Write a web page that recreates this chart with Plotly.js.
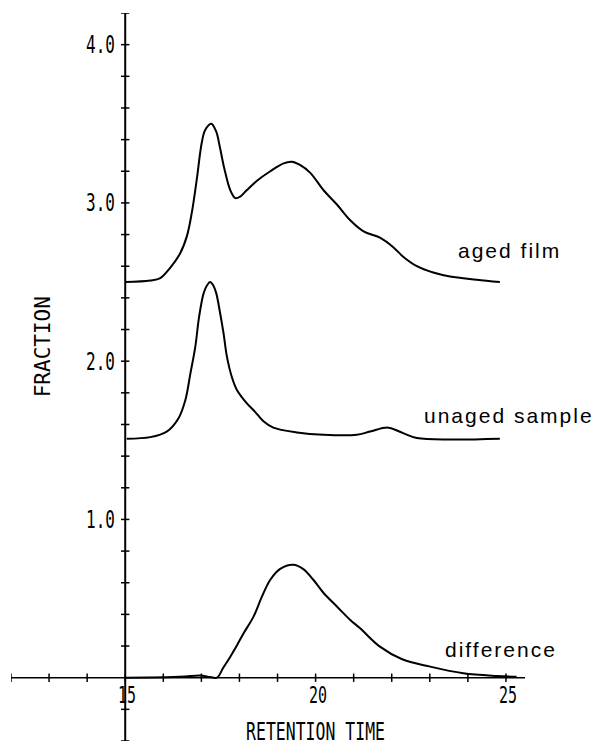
<!DOCTYPE html>
<html>
<head>
<meta charset="utf-8">
<script src="https://cdn.plot.ly/plotly-3.0.1.min.js"></script>
<style>
  html, body { margin: 0; padding: 0; background: #fff; }
  #chart { width: 595px; height: 745px; }
</style>
</head>
<body>
<div id="chart"></div>
<script>
// ---- data ----
const agedX = [15.00,15.66,15.92,16.18,16.44,16.62,16.75,16.88,17.01,17.10,17.26,17.39,17.48,17.60,17.76,17.89,18.02,18.19,18.46,18.81,19.16,19.38,19.59,19.86,20.21,20.56,20.91,21.26,21.69,22.04,22.30,22.66,23.09,23.53,24.23,24.84];
const agedY = [2.50,2.51,2.525,2.59,2.68,2.79,2.94,3.15,3.38,3.46,3.50,3.45,3.36,3.22,3.08,3.03,3.04,3.08,3.14,3.20,3.25,3.26,3.24,3.19,3.08,2.99,2.89,2.82,2.78,2.72,2.66,2.60,2.56,2.535,2.515,2.50];

const unagedX = [15.04,15.66,16.09,16.40,16.58,16.71,16.84,16.94,17.06,17.15,17.23,17.31,17.39,17.48,17.58,17.67,17.80,17.93,18.19,18.41,18.63,18.89,19.51,20.21,21.08,21.43,21.91,22.30,22.66,23.53,24.84];
const unagedY = [1.51,1.52,1.555,1.64,1.755,1.92,2.09,2.28,2.43,2.48,2.50,2.48,2.43,2.32,2.18,2.03,1.90,1.82,1.735,1.68,1.62,1.58,1.55,1.535,1.535,1.555,1.58,1.545,1.515,1.505,1.51];

const diffX = [15.00,16.26,16.58,16.97,17.23,17.41,17.57,17.76,17.94,18.11,18.37,18.59,18.81,19.07,19.41,19.67,19.94,20.21,20.56,20.91,21.17,21.69,22.26,23.01,23.88,24.76,25.28];
const diffY = [0.0,0.004,0.007,0.014,0.004,0.0,0.061,0.133,0.207,0.281,0.386,0.512,0.619,0.688,0.714,0.688,0.619,0.535,0.450,0.365,0.312,0.196,0.118,0.070,0.028,0.011,0.006];

const seriesNames = ["aged film", "unaged sample", "difference"];
const seriesLabelX = [25.10, 25.07, 24.88];
const seriesLabelY = [2.70, 1.655, 0.178];

const xTicks = [12,13,14,15,16,17,18,19,20,21,22,23,24,25];
const xLabelVals = [15, 20, 25];
const xLabelText = ["15", "20", "25"];
const yTicks = [-0.4,-0.2,0.2,0.4,0.6,0.8,1.0,1.2,1.4,1.6,1.8,2.0,2.2,2.4,2.6,2.8,3.0,3.2,3.4,3.6,3.8,4.0,4.2];
const yLabelVals = [1, 2, 3, 4];
const yLabelText = ["1.0", "2.0", "3.0", "4.0"];

const xTitle = "RETENTION TIME";
const yTitle = "FRACTION";

// ---- axis geometry ----
const xRange = [12, 25.5];
const yRange = [-0.4, 4.2];
const xCross = 15;   // y axis drawn at x = 15
const yCross = 0;    // x axis drawn at y = 0

const curveLine = {color: "#000", width: 2, shape: "spline", smoothing: 1.0};

const traces = [
  {x: agedX, y: agedY, mode: "lines", line: curveLine, hoverinfo: "skip"},
  {x: unagedX, y: unagedY, mode: "lines", line: curveLine, hoverinfo: "skip"},
  {x: diffX, y: diffY, mode: "lines", line: curveLine, hoverinfo: "skip"},
  // tick marks on the x axis
  {x: xTicks, y: xTicks.map(() => yCross), mode: "markers", hoverinfo: "skip",
   marker: {symbol: "line-ns-open", size: 6, color: "#000", line: {color: "#000", width: 1.5}}},
  // tick marks on the y axis
  {x: yTicks.map(() => xCross), y: yTicks, mode: "markers", hoverinfo: "skip",
   marker: {symbol: "line-ew-open", size: 6, color: "#000", line: {color: "#000", width: 1.5}}}
];

const plotterFont = {family: "DejaVu Sans Mono, monospace", size: 16, color: "#000"};
const labelFont = {family: "Liberation Sans, Arial, Helvetica, sans-serif", size: 21, color: "#000"};

const annotations = [];
const kinds = [];
yLabelVals.forEach((v, i) => {
  annotations.push({x: xCross, y: v, xref: "x", yref: "y", text: yLabelText[i], showarrow: false,
    xanchor: "right", yanchor: "middle", xshift: -8, font: plotterFont});
  kinds.push("plot");
});
xLabelVals.forEach((v, i) => {
  annotations.push({x: v, y: yCross, xref: "x", yref: "y", text: xLabelText[i], showarrow: false,
    xanchor: "center", yanchor: "middle", yshift: -17, xshift: 2, font: Object.assign({}, plotterFont, {size: 15})});
  kinds.push("plot");
});
annotations.push({x: 20.0, y: yCross, xref: "x", yref: "y", text: xTitle, showarrow: false,
  xanchor: "center", yanchor: "middle", yshift: -54, font: Object.assign({}, plotterFont, {size: 16.5})});
kinds.push("plot");
annotations.push({x: 12.85, y: 2.09, xref: "x", yref: "y", text: yTitle, showarrow: false,
  textangle: -90, xanchor: "center", yanchor: "middle", font: Object.assign({}, plotterFont, {size: 21})});
kinds.push("rot");
seriesNames.forEach((n, i) => {
  annotations.push({x: seriesLabelX[i], y: seriesLabelY[i], xref: "x", yref: "y", text: n, showarrow: false,
    xanchor: "center", yanchor: "middle", font: labelFont});
  kinds.push("label");
});

const layout = {
  width: 595, height: 745,
  margin: {l: 10.7, r: 69.8, t: 13.3, b: 4},
  paper_bgcolor: "#fff", plot_bgcolor: "#fff",
  showlegend: false,
  xaxis: {range: xRange, showgrid: false, zeroline: false, showline: false, ticks: "", showticklabels: false, fixedrange: true},
  yaxis: {range: yRange, showgrid: false, zeroline: false, showline: false, ticks: "", showticklabels: false, fixedrange: true},
  shapes: [
    {type: "line", xref: "x", yref: "y", x0: xRange[0], x1: xRange[1], y0: yCross, y1: yCross, line: {color: "#000", width: 1.6}},
    {type: "line", xref: "x", yref: "y", x0: xCross, x1: xCross, y0: yRange[0], y1: yRange[1], line: {color: "#000", width: 2}}
  ],
  annotations: annotations
};

Plotly.newPlot("chart", traces, layout, {displayModeBar: false, staticPlot: true}).then(() => {
  const groups = document.querySelectorAll("#chart .annotation");
  groups.forEach((g, i) => {
    const t = g.querySelector("text.annotation-text");
    if (!t) return;
    if (kinds[i] === "plot") {
      t.style.transformBox = "fill-box";
      t.style.transformOrigin = "center";
      t.style.transform = "scaleY(1.5)";
    } else if (kinds[i] === "label") {
      t.style.letterSpacing = "2px";
    }
  });
});
</script>
</body>
</html>
